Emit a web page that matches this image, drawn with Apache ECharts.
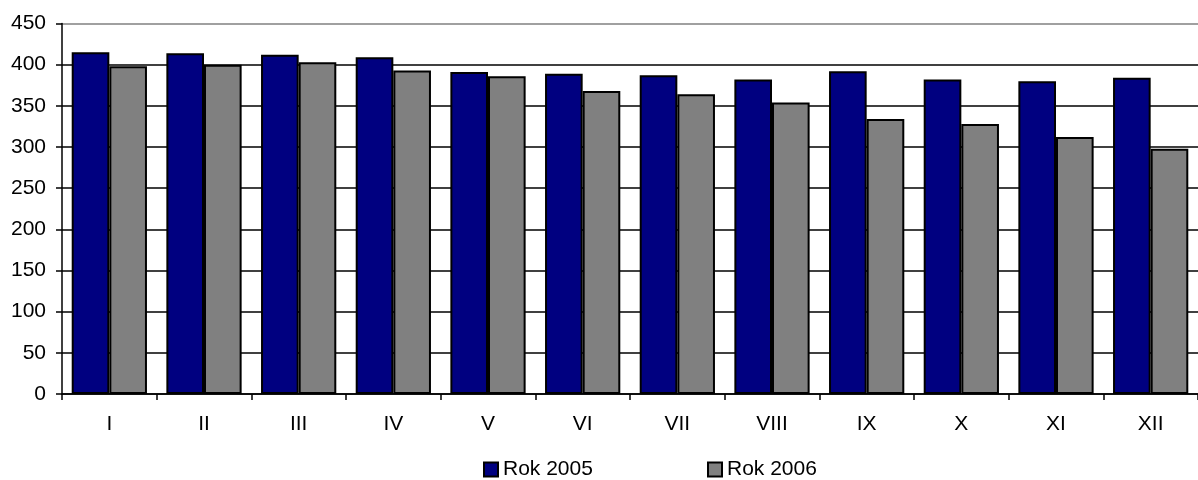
<!DOCTYPE html>
<html><head><meta charset="utf-8">
<script src="https://cdn.jsdelivr.net/npm/echarts@6/dist/echarts.min.js"></script>
<style>html,body{margin:0;padding:0;background:#fff}#c{width:1198px;height:480px}</style>
</head><body><div id="c"></div>
<script>
const categories = ['I','II','III','IV','V','VI','VII','VIII','IX','X','XI','XII'];
const rok2005 = [415, 414, 412, 409, 391, 389, 387, 382, 392, 382, 380, 384];
const rok2006 = [398, 400, 403, 393, 386, 368, 364, 354, 334, 328, 312, 298];
const seriesNames = ['Rok 2005', 'Rok 2006'];

const chart = echarts.init(document.getElementById('c'));
const font = 'Liberation Sans, Arial, sans-serif';
const gridColors = ['#000','#000','#000','#000','#000','#000','#000','#000','#000','#808080'];
const legendBase = {
  top: 459, itemWidth: 14, itemHeight: 14, icon: 'rect', padding: 0,
  textStyle: { fontFamily: font, fontSize: 21, color: '#000' }
};
chart.setOption({
  animation: false,
  backgroundColor: '#fff',
  grid: { left: 62, right: -11, top: 23.5, bottom: 86, containLabel: false },
  legend: [
    Object.assign({}, legendBase, { left: 483, data: [seriesNames[0]] }),
    Object.assign({}, legendBase, { left: 707, data: [seriesNames[1]] })
  ],
  xAxis: {
    type: 'category', data: categories,
    axisLine: { lineStyle: { color: '#000', width: 1.5 } },
    axisTick: { show: true, length: 6, lineStyle: { color: '#000', width: 1.5 } },
    axisLabel: { fontFamily: font, fontSize: 21, color: '#000', margin: 20 },
    splitLine: { show: false }
  },
  yAxis: {
    type: 'value', min: 0, max: 450, interval: 50,
    axisLine: { show: true, lineStyle: { color: '#000', width: 1.5 } },
    axisTick: { show: true, length: 6, lineStyle: { color: '#000', width: 1.5 } },
    axisLabel: { fontFamily: font, fontSize: 21, color: '#000', margin: 16 },
    splitLine: { show: true, lineStyle: { color: gridColors, width: 1.5 } }
  },
  series: [
    { name: seriesNames[0], type: 'bar', data: rok2005, barGap: '0%', barCategoryGap: '20.5%',
      itemStyle: { color: '#000080', borderColor: '#000', borderWidth: 2 } },
    { name: seriesNames[1], type: 'bar', data: rok2006, barGap: '0%', barCategoryGap: '20.5%',
      itemStyle: { color: '#808080', borderColor: '#000', borderWidth: 2 } }
  ]
});
</script></body></html>
